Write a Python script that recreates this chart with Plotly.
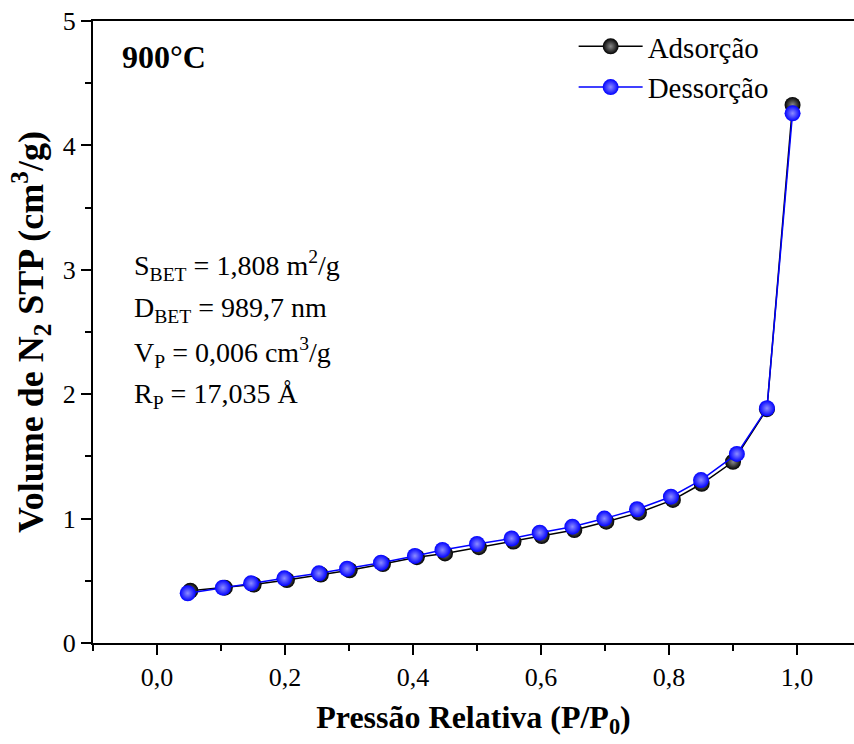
import plotly.graph_objects as go

# Data
p_ads = [0.052, 0.106, 0.151, 0.203, 0.256, 0.301, 0.353, 0.406, 0.450, 0.503,
         0.557, 0.601, 0.652, 0.702, 0.753, 0.806, 0.851, 0.900, 0.953, 0.993]
v_ads = [0.42, 0.445, 0.47, 0.506, 0.55, 0.585, 0.635, 0.69, 0.72, 0.77,
         0.815, 0.86, 0.908, 0.975, 1.048, 1.15, 1.28, 1.457, 1.88, 4.325]

p_des = [0.048, 0.103, 0.147, 0.199, 0.253, 0.297, 0.350, 0.403, 0.446, 0.500,
         0.554, 0.598, 0.649, 0.699, 0.750, 0.803, 0.850, 0.906, 0.953, 0.993]
v_des = [0.40, 0.445, 0.48, 0.52, 0.56, 0.597, 0.645, 0.70, 0.748, 0.796,
         0.84, 0.887, 0.935, 1.00, 1.075, 1.176, 1.31, 1.52, 1.887, 4.258]

series_names = ["Adsorção", "Dessorção"]
x_ticks = [0.0, 0.2, 0.4, 0.6, 0.8, 1.0]
y_ticks = [0, 1, 2, 3, 4, 5]

FONT = "Liberation Serif"

fig = go.Figure()
fig.add_trace(go.Scatter(
    x=p_ads, y=v_ads, mode="lines+markers", name=series_names[0],
    legendgroup="a",
    line=dict(color="black", width=1.5),
    marker=dict(size=16, color="black", line=dict(width=0),
                gradient=dict(type="radial", color="#8a8a8a")),
))
fig.add_trace(go.Scatter(
    x=p_des, y=v_des, mode="lines+markers", name=series_names[1],
    legendgroup="b",
    line=dict(color="#0000ff", width=1.5),
    marker=dict(size=16, color="#0000ff", line=dict(width=0),
                gradient=dict(type="radial", color="#8c8cff")),
))

annotations = [
    dict(text="<b>900°C</b>", x=120, y=57, size=32),
    dict(text="S<sub>BET</sub> = 1,808 m<sup>2</sup>/g", x=132, y=265, size=28),
    dict(text="D<sub>BET</sub> = 989,7 nm", x=132, y=309, size=28),
    dict(text="V<sub>P</sub> = 0,006 cm<sup>3</sup>/g", x=132, y=352, size=28),
    dict(text="R<sub>P</sub> = 17,035 Å", x=132, y=395, size=28),
]
L, R, T, B = 93, 0, 21, 101
W, H = 854, 744
pw, ph = W - L - R, H - T - B
for a in annotations:
    fig.add_annotation(
        text=a["text"], xref="paper", yref="paper",
        x=(a["x"] - L) / pw, y=1 - (a["y"] - T) / ph,
        xanchor="left", yanchor="middle", showarrow=False,
        font=dict(family=FONT, size=a["size"], color="black"),
    )

fig.update_layout(
    width=W, height=H,
    margin=dict(l=L, r=R, t=T, b=B),
    paper_bgcolor="white", plot_bgcolor="white",
    separators=",.",
    font=dict(family=FONT, color="black"),
    showlegend=True,
    legend=dict(x=0.6316, y=1.0, xanchor="left", yanchor="top",
                font=dict(family=FONT, size=29, color="black"),
                bgcolor="rgba(0,0,0,0)", itemwidth=64,
                traceorder="grouped", tracegroupgap=0),
    xaxis=dict(
        range=[-0.1, 1.089], tickvals=x_ticks, tickformat=".1f",
        showline=True, linecolor="black", linewidth=2, mirror=True,
        ticks="outside", ticklen=10, tickwidth=2, tickcolor="black",
        minor=dict(ticks="outside", dtick=0.1, tick0=0, ticklen=6, tickwidth=2, tickcolor="black"),
        showgrid=False, zeroline=False,
        tickfont=dict(family=FONT, size=26, color="black"),
        title=dict(text="<b>Pressão Relativa (P/P<sub>0</sub>)</b>",
                   font=dict(family=FONT, size=32, color="black"), standoff=14),
    ),
    yaxis=dict(
        range=[0, 5], tickvals=y_ticks,
        showline=True, linecolor="black", linewidth=2,
        ticks="outside", ticklen=10, tickwidth=2, tickcolor="black",
        minor=dict(ticks="outside", dtick=0.5, tick0=0, ticklen=6, tickwidth=2, tickcolor="black"),
        showgrid=False, zeroline=False,
        tickfont=dict(family=FONT, size=26, color="black"),
        title=dict(text="<b>Volume de N<sub>2</sub> STP (cm<sup>3</sup>/g)</b>",
                   font=dict(family=FONT, size=36, color="black"), standoff=8),
    ),
)

fig.write_html("out.html")
